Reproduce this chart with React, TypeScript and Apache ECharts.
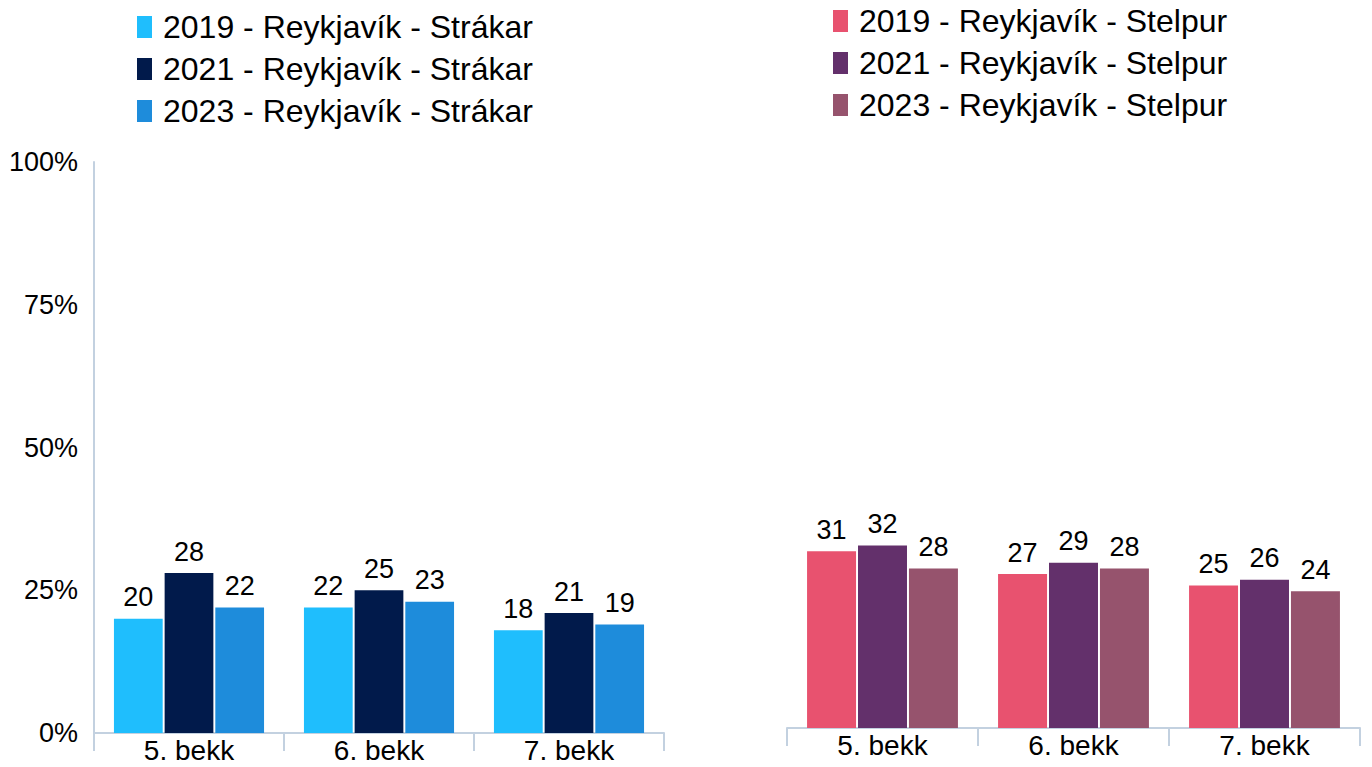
import React, { useEffect, useRef } from "react";
import * as echarts from "echarts";

const categories = ["5. bekk", "6. bekk", "7. bekk"];
const yTicks = [0, 25, 50, 75, 100];

const boysNames = [
  "2019 - Reykjavík - Strákar",
  "2021 - Reykjavík - Strákar",
  "2023 - Reykjavík - Strákar",
];
const girlsNames = [
  "2019 - Reykjavík - Stelpur",
  "2021 - Reykjavík - Stelpur",
  "2023 - Reykjavík - Stelpur",
];

const boys2019 = [20, 22, 18];
const boys2021 = [28, 25, 21];
const boys2023 = [22, 23, 19];
const girls2019 = [31, 27, 25];
const girls2021 = [32, 29, 26];
const girls2023 = [28, 28, 24];

const boysColors = ["#1FBEFD", "#011A4B", "#1E8CDB"];
const girlsColors = ["#E8526F", "#63306B", "#96536D"];

const FONT = "'Liberation Sans', Arial, sans-serif";
const AXIS_COLOR = "#C3D1E0";

export default function App() {
  const ref = useRef<HTMLDivElement>(null);
  useEffect(() => {
    if (!ref.current) return;
    const chart = echarts.init(ref.current, undefined, { renderer: "svg" });

    const mkX = (gridIndex: number) => ({
      type: "category",
      gridIndex,
      data: categories,
      axisLine: { show: true, lineStyle: { color: AXIS_COLOR, width: 2 } },
      axisTick: { show: true, length: 18, interval: 0, lineStyle: { color: AXIS_COLOR, width: 2 } },
      axisLabel: { color: "#000", fontSize: 28, fontFamily: FONT, margin: 3, interval: 0 },
    });

    const barSeries = (name: string, data: number[], color: string, idx: number) => ({
      type: "bar",
      name,
      data,
      xAxisIndex: idx,
      yAxisIndex: idx,
      barGap: "4%",
      barCategoryGap: "21%",
      itemStyle: { color },
      label: {
        show: true,
        position: "top",
        distance: 8,
        color: "#000",
        fontSize: 27,
        fontFamily: FONT,
      },
    });

    const allBoys = [boys2019, boys2021, boys2023];
    const allGirls = [girls2019, girls2021, girls2023];

    const legendCommon = {
      orient: "vertical",
      itemWidth: 15,
      itemHeight: 22,
      itemGap: 10,
      icon: "rect",
      textStyle: {
        color: "#000",
        fontSize: 32,
        fontFamily: FONT,
        lineHeight: 32,
        padding: [0, 0, 0, 6],
      },
    };

    chart.setOption({
      animation: false,
      backgroundColor: "#fff",
      textStyle: { fontFamily: FONT },
      legend: [
        { ...legendCommon, data: boysNames, left: 132, top: 6 },
        { ...legendCommon, data: girlsNames, left: 828, top: 0 },
      ],
      grid: [
        { left: 94, top: 162, width: 570, height: 571, containLabel: false },
        { left: 787, top: 158, width: 573, height: 570, containLabel: false },
      ],
      xAxis: [mkX(0), mkX(1)],
      yAxis: [
        {
          type: "value",
          gridIndex: 0,
          min: yTicks[0],
          max: yTicks[yTicks.length - 1],
          interval: 25,
          axisLine: { show: true, lineStyle: { color: AXIS_COLOR, width: 2 } },
          axisTick: { show: false },
          splitLine: { show: false },
          axisLabel: {
            color: "#000",
            fontSize: 27,
            fontFamily: FONT,
            margin: 16,
            formatter: "{value}%",
          },
        },
        {
          type: "value",
          gridIndex: 1,
          min: 0,
          max: 100,
          interval: 25,
          show: false,
          splitLine: { show: false },
        },
      ],
      series: [
        ...allBoys.map((d, i) => barSeries(boysNames[i], d, boysColors[i], 0)),
        ...allGirls.map((d, i) => barSeries(girlsNames[i], d, girlsColors[i], 1)),
      ],
    });

    return () => chart.dispose();
  }, []);

  return (
    <div
      ref={ref}
      style={{ position: "fixed", left: 0, top: 0, width: 1372, height: 767 }}
    />
  );
}
